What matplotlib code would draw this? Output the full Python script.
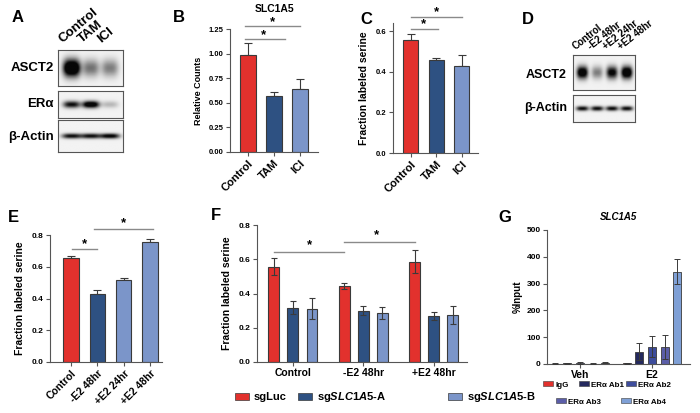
import numpy as np
import matplotlib.pyplot as plt
from matplotlib.patches import Patch

plt.rcParams['font.family'] = ['Liberation Sans', 'DejaVu Sans']
plt.rcParams['font.weight'] = 'bold'
plt.rcParams['axes.labelweight'] = 'bold'
plt.rcParams['mathtext.fontset'] = 'custom'
plt.rcParams['mathtext.it'] = 'Liberation Sans:italic:bold'
plt.rcParams['mathtext.rm'] = 'Liberation Sans:bold'
plt.rcParams['mathtext.bf'] = 'Liberation Sans:bold'

# ---- data ----
# western blots (relative band intensity, read by eye)
a_lanes = ['Control', 'TAM', 'ICI']
a_asct2 = [1.6, 0.55, 0.5]
a_era = [1.0, 1.3, 0.25]
a_actin = [1.0, 1.0, 1.1]

d_lanes = ['Control', '-E2 48hr', '+E2 24hr', '+E2 48hr']
d_asct2 = [1.3, 0.5, 1.1, 1.4]
d_actin = [1.0, 1.0, 1.0, 1.0]

# B: SLC1A5 relative counts
b_groups = ['Control', 'TAM', 'ICI']
b_mean = [0.99, 0.57, 0.64]
b_err = [0.12, 0.04, 0.10]

# C: fraction labeled serine
c_groups = ['Control', 'TAM', 'ICI']
c_mean = [0.555, 0.46, 0.43]
c_err = [0.03, 0.008, 0.05]

# E
e_groups = ['Control', '-E2 48hr', '+E2 24hr', '+E2 48hr']
e_mean = [0.655, 0.427, 0.515, 0.758]
e_err = [0.014, 0.024, 0.014, 0.018]

# F
f_groups = ['Control', '-E2 48hr', '+E2 48hr']
f_series = ['sgLuc', 'sg$\\mathit{SLC1A5}$-A', 'sg$\\mathit{SLC1A5}$-B']
f_luc = [0.556, 0.445, 0.585]
f_luc_err = [0.049, 0.016, 0.068]
f_a = [0.318, 0.299, 0.267]
f_a_err = [0.036, 0.026, 0.023]
f_b = [0.312, 0.287, 0.273]
f_b_err = [0.06, 0.035, 0.053]

# G: ChIP %Input at SLC1A5
g_groups = ['Veh', 'E2']
g_series = ['IgG', 'ERα Ab1', 'ERα Ab2', 'ERα Ab3', 'ERα Ab4']
g_veh = [1, 2, 3, 1, 4]
g_veh_err = [1, 1, 3, 1, 2]
g_e2 = [3, 46, 65, 62, 345]
g_e2_err = [2, 31, 40, 45, 45]

RED = '#e2312d'
DARK = '#2e5182'
LIGHT = '#7b95c9'
G_COLORS = [RED, '#24295e', '#3d4c9c', '#5b5ea8', '#7fa0d6']
EDGE = '#3a3a3a'
AX = '#555555'

W, H = 700, 413
fig = plt.figure(figsize=(7, 4.13), dpi=100)


def box(x0, y0, x1, y1):
    return [x0 / W, 1 - y1 / H, (x1 - x0) / W, (y1 - y0) / H]


def ftext(x, y, s, **kw):
    fig.text(x / W, 1 - y / H, s, **kw)


def style(ax, tick_size=5.5):
    for s in ['top', 'right']:
        ax.spines[s].set_visible(False)
    for s in ['left', 'bottom']:
        ax.spines[s].set_color(AX)
        ax.spines[s].set_linewidth(0.8)
    ax.tick_params(length=3, width=0.8, color=AX, labelsize=tick_size, pad=1.5)


def draw_blot(ax, vals, lane_x, sx, sy):
    xx = np.linspace(0, 1, 200)[None, :]
    yy = np.linspace(0, 1, 60)[:, None]
    dens = np.zeros((60, 200))
    for xc, v in zip(lane_x, vals):
        dens += v * np.exp(-np.abs((xx - xc) / sx) ** 3 - ((yy - 0.5) / sy) ** 2)
    img = 0.95 - 0.92 * np.clip(dens, 0, 1)
    ax.imshow(img, cmap='gray', vmin=0, vmax=1, aspect='auto',
              extent=(0, 1, 0, 1), interpolation='bilinear')
    ax.set_xticks([])
    ax.set_yticks([])
    for s in ax.spines.values():
        s.set_color('#555555')
        s.set_linewidth(0.8)


def sig(ax, x0, x1, y, sx, sy):
    ax.plot([x0, x1], [y, y], color='#8a8a8a', lw=1, clip_on=False)
    ax.text(sx, sy, '*', ha='center', va='center', fontsize=9.5, clip_on=False)


def bars(ax, names, mean, err, colors, width, rot_size):
    x = np.arange(len(names))
    ax.errorbar(x, mean, yerr=[np.zeros(len(err)), err], fmt='none', ecolor=EDGE,
                elinewidth=0.8, capsize=3, capthick=0.8, zorder=1)
    ax.bar(x, mean, width=width, color=colors, edgecolor=EDGE, linewidth=0.8, zorder=2)
    ax.set_xticks(x)
    ax.set_xticklabels(names, rotation=45, ha='right', rotation_mode='anchor',
                       fontsize=rot_size)
    return x


# ---- panel labels ----
for lbl, x, y in [('A', 12, 18), ('B', 173, 18), ('C', 360, 20), ('D', 522, 20),
                  ('E', 8, 218), ('F', 211, 216), ('G', 498, 217)]:
    ftext(x, y, lbl, fontsize=12, ha='left', va='center')

# ---- A: western blot ----
a_x = np.linspace(0.21, 0.8, 3)
ax = fig.add_axes(box(58, 50, 123, 86))
draw_blot(ax, a_asct2, a_x, 0.13, 0.24)
ax = fig.add_axes(box(58, 91, 123, 118))
draw_blot(ax, a_era, a_x, 0.13, 0.13)
ax = fig.add_axes(box(58, 120, 123, 152))
draw_blot(ax, a_actin, a_x, 0.15, 0.08)
for name, xc in zip(a_lanes, a_x):
    ftext(58 + 65 * xc - 7, 45, name, rotation=40, rotation_mode='anchor',
          ha='left', va='bottom', fontsize=9.5)
ftext(54, 68, 'ASCT2', ha='right', va='center', fontsize=9.5)
ftext(54, 104, 'ERα', ha='right', va='center', fontsize=9.5)
ftext(54, 137, 'β-Actin', ha='right', va='center', fontsize=9.5)

# ---- B ----
ax = fig.add_axes(box(230, 29, 318, 152))
style(ax)
bars(ax, b_groups, b_mean, b_err, [RED, DARK, LIGHT], 0.58, 8)
ax.set_ylim(0, 1.25)
ax.set_xlim(-0.69, 2.69)
ax.set_yticks([0, 0.25, 0.5, 0.75, 1.0, 1.25])
ax.set_yticklabels(['0.00', '0.25', '0.50', '0.75', '1.00', '1.25'])
ax.set_ylabel('Relative Counts', fontsize=6.5, labelpad=4)
sig(ax, -0.12, 1.42, 1.148, 0.6, 1.185)
sig(ax, -0.12, 2.0, 1.277, 0.95, 1.315)
ftext(275, 9, 'SLC1A5', ha='center', va='center', fontsize=7.5)

# ---- C ----
ax = fig.add_axes(box(393, 23, 478, 153))
style(ax)
bars(ax, c_groups, c_mean, c_err, [RED, DARK, LIGHT], 0.59, 8)
ax.set_ylim(0, 0.64)
ax.set_xlim(-0.7, 2.63)
ax.set_yticks([0, 0.2, 0.4, 0.6])
ax.set_ylabel('Fraction labeled serine', fontsize=7.5, labelpad=5)
sig(ax, 0, 1.05, 0.61, 0.48, 0.635)
sig(ax, 0, 2.0, 0.67, 1.0, 0.695)

# ---- D: western blot ----
d_x = np.linspace(0.15, 0.87, 4)
ax = fig.add_axes(box(573, 55, 635, 90))
draw_blot(ax, d_asct2, d_x, 0.09, 0.18)
ax = fig.add_axes(box(573, 95, 635, 122))
draw_blot(ax, d_actin, d_x, 0.1, 0.09)
for name, xc in zip(d_lanes, d_x):
    ftext(573 + 62 * xc - 5, 52, name, rotation=38, rotation_mode='anchor',
          ha='left', va='bottom', fontsize=7)
ftext(567, 75, 'ASCT2', ha='right', va='center', fontsize=9)
ftext(567, 108, 'β-Actin', ha='right', va='center', fontsize=9)

# ---- E ----
ax = fig.add_axes(box(50, 235, 162, 362))
style(ax, 6)
bars(ax, e_groups, e_mean, e_err, [RED, DARK, LIGHT, LIGHT], 0.58, 7.5)
ax.set_ylim(0, 0.8)
ax.set_xlim(-0.8, 3.45)
ax.set_yticks([0, 0.2, 0.4, 0.6, 0.8])
ax.set_ylabel('Fraction labeled serine', fontsize=7.5, labelpad=5)
sig(ax, 0.04, 1.0, 0.71, 0.5, 0.745)
sig(ax, 0.88, 3.1, 0.84, 2.0, 0.875)

# ---- F ----
ax = fig.add_axes(box(257, 225, 467, 362))
style(ax, 6)
xg = np.arange(len(f_groups))
off = 0.27
bw = 0.155
for vals, errs, col, dx in [(f_luc, f_luc_err, RED, -off), (f_a, f_a_err, DARK, 0),
                            (f_b, f_b_err, LIGHT, off)]:
    ax.bar(xg + dx, vals, width=bw, color=col, edgecolor=EDGE, linewidth=0.8, zorder=2)
    ax.errorbar(xg + dx, vals, yerr=errs, fmt='none', ecolor=EDGE, elinewidth=0.8,
                capsize=2.5, capthick=0.8, zorder=3)
ax.set_xticks(xg)
ax.set_xticklabels(f_groups, fontsize=7.5)
ax.set_ylim(0, 0.8)
ax.set_xlim(-0.51, 2.47)
ax.set_yticks([0, 0.2, 0.4, 0.6, 0.8])
ax.set_ylabel('Fraction labeled serine', fontsize=7.5, labelpad=5)
sig(ax, -0.27, 0.73, 0.643, 0.24, 0.68)
sig(ax, 0.73, 1.73, 0.70, 1.19, 0.74)

for name, col, x in zip(f_series, [RED, DARK, LIGHT], [235, 298, 448]):
    h = Patch(facecolor=col, edgecolor=EDGE, linewidth=0.5, label=name)
    fig.legend(handles=[h], loc='center left', bbox_to_anchor=(x / W, 1 - 397 / H),
               frameon=False, fontsize=8, handlelength=1.3, handleheight=0.6,
               handletextpad=0.4, borderpad=0, borderaxespad=0)

# ---- G ----
ax = fig.add_axes(box(547, 230, 690, 364))
style(ax, 6)
xg = np.arange(len(g_groups))
step = 0.176
for i, col in enumerate(G_COLORS):
    xs = xg + (i - 2) * step
    vals = [g_veh[i], g_e2[i]]
    errs = [g_veh_err[i], g_e2_err[i]]
    ax.bar(xs, vals, width=0.11, color=col, edgecolor=EDGE, linewidth=0.6, zorder=2)
    ax.errorbar(xs, vals, yerr=errs, fmt='none', ecolor=EDGE, elinewidth=0.7,
                capsize=2.5, capthick=0.7, zorder=3)
ax.set_xticks(xg)
ax.set_xticklabels(g_groups, fontsize=7.5)
ax.set_ylim(0, 500)
ax.set_xlim(-0.46, 1.53)
ax.set_yticks([0, 100, 200, 300, 400, 500])
ax.set_ylabel('%Input', fontsize=7, labelpad=3)
ftext(619, 217, 'SLC1A5', ha='center', va='center', fontsize=7, style='italic')

g_leg = [(543, 385), (579, 385), (626, 385), (556, 402), (621, 402)]
for name, col, (x, y) in zip(g_series, G_COLORS, g_leg):
    h = Patch(facecolor=col, edgecolor=EDGE, linewidth=0.4, label=name)
    fig.legend(handles=[h], loc='center left', bbox_to_anchor=(x / W, 1 - y / H),
               frameon=False, fontsize=5.8, handlelength=1.2, handleheight=0.45,
               handletextpad=0.35, borderpad=0, borderaxespad=0)

fig.savefig('out.png', dpi=100)
